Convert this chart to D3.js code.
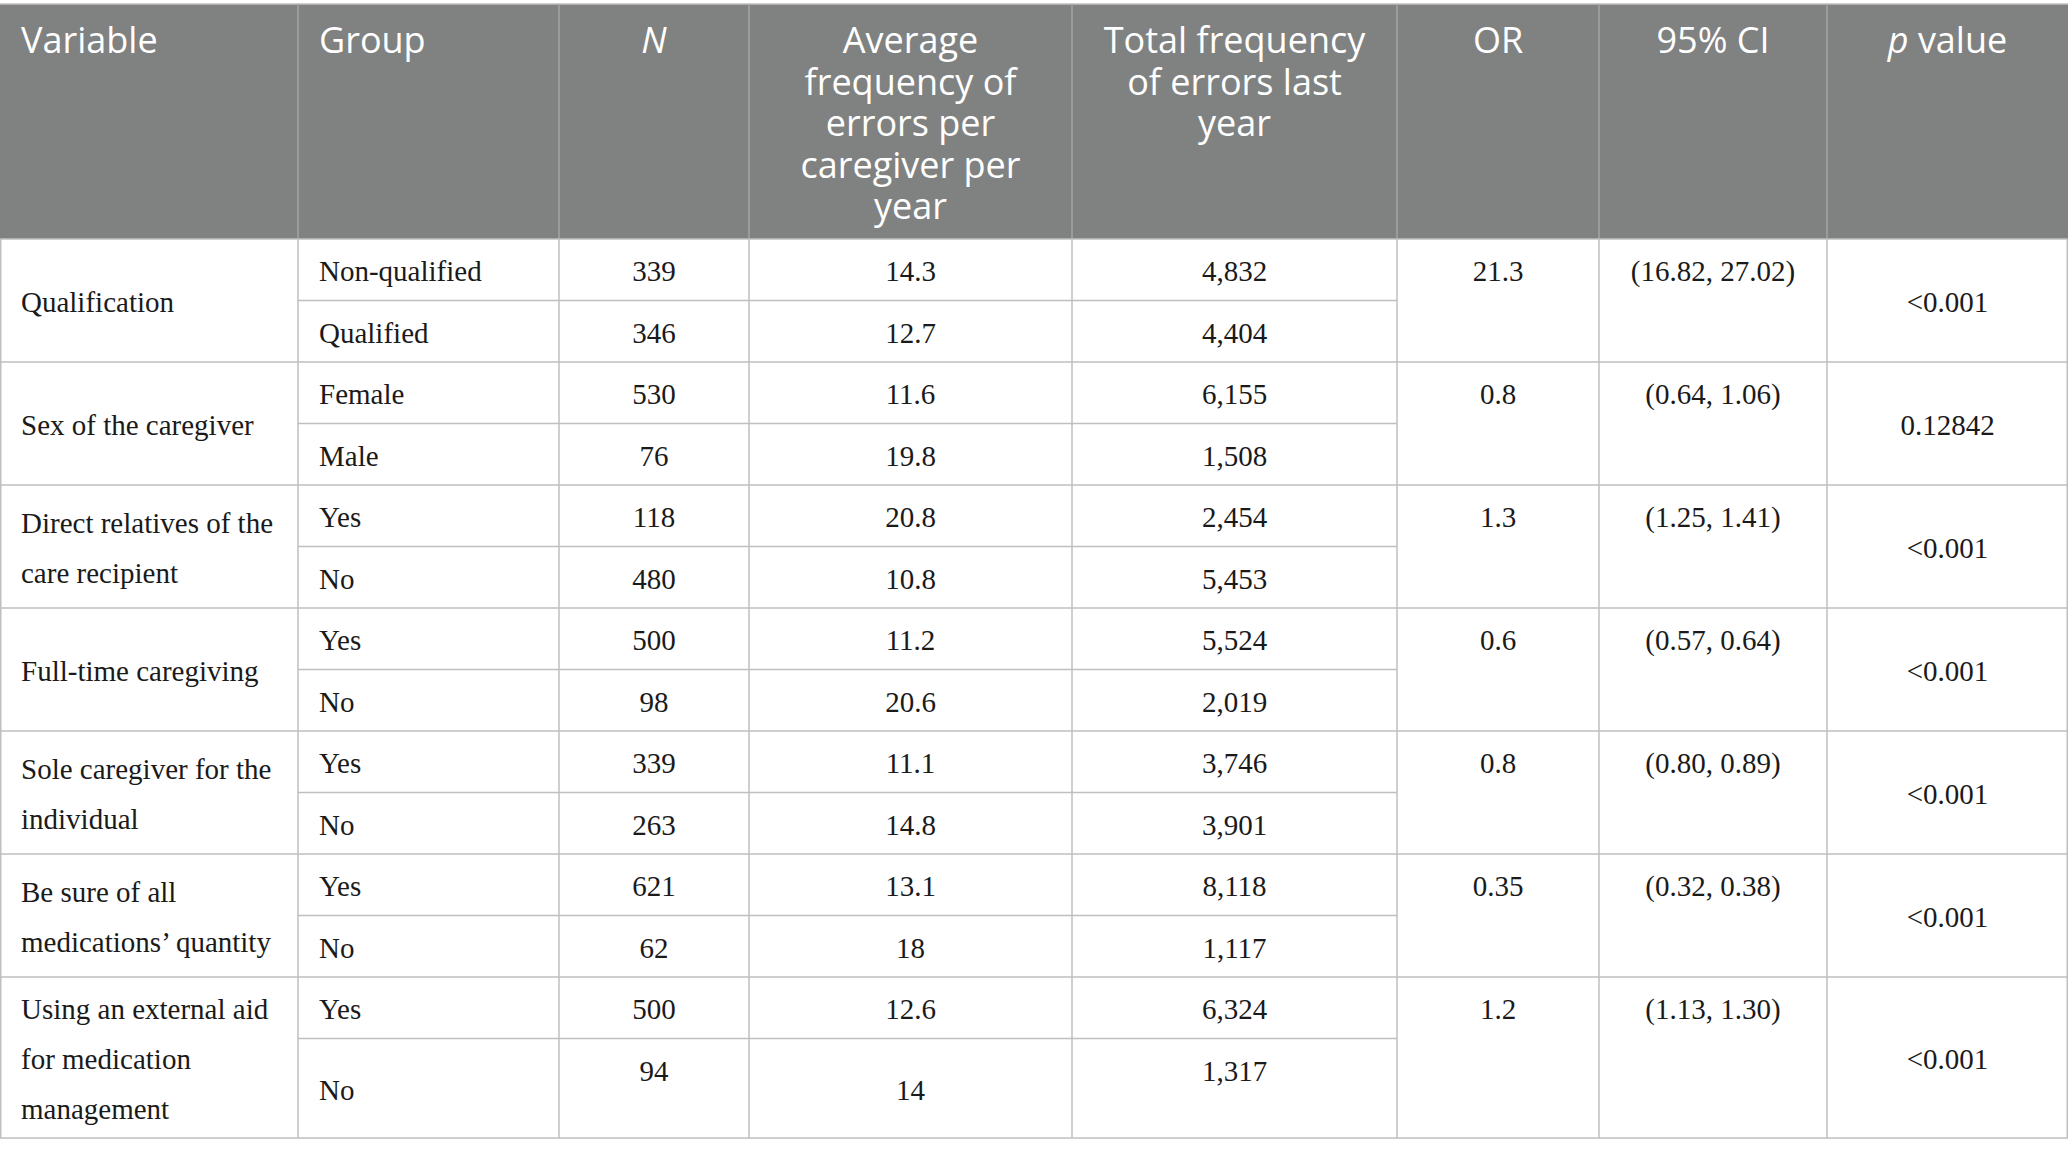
<!DOCTYPE html>
<html>
<head>
<meta charset="utf-8">
<script src="https://cdn.jsdelivr.net/npm/d3@7"></script>
<style>
  body { margin: 0; background: #fff; }
</style>
</head>
<body>
<script>
// table content
const headerLines = [
    ["Variable"], ["Group"], ["N"],
    ["Average", "frequency of", "errors per", "caregiver per", "year"],
    ["Total frequency", "of errors last", "year"],
    ["OR"], ["95% CI"], ["p value"]
];
const italicWords = new Set(["N", "p"]);

const variableLines = [
    ["Qualification"],
    ["Sex of the caregiver"],
    ["Direct relatives of the", "care recipient"],
    ["Full-time caregiving"],
    ["Sole caregiver for the", "individual"],
    ["Be sure of all", "medications\u2019 quantity"],
    ["Using an external aid", "for medication", "management"]
];
const groups = [
    ["Non-qualified", "Qualified"], ["Female", "Male"], ["Yes", "No"], ["Yes", "No"],
    ["Yes", "No"], ["Yes", "No"], ["Yes", "No"]
];
const nValues = [[339, 346], [530, 76], [118, 480], [500, 98], [339, 263], [621, 62], [500, 94]];
const avgFreq = [[14.3, 12.7], [11.6, 19.8], [20.8, 10.8], [11.2, 20.6], [11.1, 14.8], [13.1, 18], [12.6, 14]];
const totalErrors = [[4832, 4404], [6155, 1508], [2454, 5453], [5524, 2019], [3746, 3901], [8118, 1117], [6324, 1317]];
const oddsRatios = ["21.3", "0.8", "1.3", "0.6", "0.8", "0.35", "1.2"];
const ciLabels = ["(16.82, 27.02)", "(0.64, 1.06)", "(1.25, 1.41)", "(0.57, 0.64)", "(0.80, 0.89)", "(0.32, 0.38)", "(1.13, 1.30)"];
const pValues = ["<0.001", "0.12842", "<0.001", "<0.001", "<0.001", "<0.001", "<0.001"];

// layout
const svgWidth = 2068;
const svgHeight = 1156;
const colEdges = [0, 298, 559, 749, 1072, 1397, 1599, 1827, 2068];
const tableTop = 4;
const headerBottom = 239;
const subRowH = 61.5;
const varLineH = 50;
const headerLineH = 41.5;
const headerFont = 36;
const bodyFont = 29;
const padLeft = 21;
const baselineShift = 11.5;

const headerFill = "#808281";
const headerDivider = "#a3a5a4";
const gridColor = "#bfbfbf";

const fmtTotal = d3.format(",");

// column x scale by index (left edge)
const colX = d3.scaleOrdinal().domain(d3.range(colEdges.length)).range(colEdges);
const colCenter = i => (colX(i) + colX(i + 1)) / 2;

// group heights: enough for two sub-rows or the wrapped variable label
const groupHeights = variableLines.map(l => Math.max(2 * subRowH, l.length * varLineH + 11));
const groupTops = [headerBottom];
groupHeights.forEach((h, i) => groupTops.push(groupTops[i] + h));

const svg = d3.select("body").append("svg")
    .attr("width", svgWidth)
    .attr("height", svgHeight);

// header background
svg.append("rect")
    .attr("x", 0).attr("y", tableTop)
    .attr("width", svgWidth).attr("height", headerBottom - tableTop)
    .attr("fill", headerFill);

svg.append("line")
    .attr("x1", 0).attr("x2", svgWidth)
    .attr("y1", tableTop).attr("y2", tableTop)
    .attr("stroke", gridColor).attr("stroke-width", 1.5);

svg.selectAll("line.hdiv")
    .data(d3.range(1, colEdges.length - 1))
    .join("line")
    .attr("class", "hdiv")
    .attr("x1", d => colX(d)).attr("x2", d => colX(d))
    .attr("y1", tableTop).attr("y2", headerBottom)
    .attr("stroke", headerDivider).attr("stroke-width", 1.5);

// header text, one text element per line
headerLines.forEach((lines, i) => {
    const x = i < 2 ? colX(i) + padLeft : colCenter(i);
    lines.forEach((line, j) => {
        const t = svg.append("text")
            .attr("class", "head")
            .attr("font-family", "'Open Sans', 'Noto Sans', sans-serif")
            .attr("font-size", headerFont)
            .attr("fill", "#ffffff")
            .attr("text-anchor", i < 2 ? "start" : "middle")
            .attr("x", x)
            .attr("y", 53 + j * headerLineH);
        line.split(" ").forEach((w, k) => {
            const ts = t.append("tspan").text((k > 0 ? " " : "") + w);
            if (italicWords.has(w)) ts.attr("font-style", "italic");
        });
    });
});

// body grid
const body = svg.append("g")
    .attr("font-family", "'Liberation Serif', 'Times New Roman', serif")
    .attr("font-size", bodyFont)
    .attr("fill", "#1a1a1a");

// group separators (full width)
svg.selectAll("line.gsep")
    .data(groupTops)
    .join("line")
    .attr("class", "gsep")
    .attr("x1", 0).attr("x2", svgWidth)
    .attr("y1", d => d).attr("y2", d => d)
    .attr("stroke", gridColor).attr("stroke-width", 1.5);

// inner sub-row separators (Group .. Total columns)
svg.selectAll("line.ssep")
    .data(groupTops.slice(0, -1))
    .join("line")
    .attr("class", "ssep")
    .attr("x1", colX(1)).attr("x2", colX(5))
    .attr("y1", d => d + subRowH).attr("y2", d => d + subRowH)
    .attr("stroke", gridColor).attr("stroke-width", 1.5);

// vertical lines in the body
svg.selectAll("line.vdiv")
    .data(colEdges)
    .join("line")
    .attr("class", "vdiv")
    .attr("x1", d => Math.min(Math.max(d, 0.75), svgWidth - 0.75))
    .attr("x2", d => Math.min(Math.max(d, 0.75), svgWidth - 0.75))
    .attr("y1", headerBottom).attr("y2", groupTops[groupTops.length - 1])
    .attr("stroke", gridColor).attr("stroke-width", 1.5);

// body cells
variableLines.forEach((lines, g) => {
    const top = groupTops[g];
    const h = groupHeights[g];
    const mid = top + h / 2;
    const row1Mid = top + subRowH / 2;
    const row2Top = top + subRowH;
    const row2Mid = (row2Top + top + h) / 2;
    // slot centre for top-aligned cells in a tall second row
    const row2Slot = row2Top + subRowH / 2;

    // variable label (left, middle)
    const vt = body.append("text");
    lines.forEach((line, j) => {
        vt.append("tspan")
            .attr("x", colX(0) + padLeft)
            .attr("y", mid + baselineShift + (j - (lines.length - 1) / 2) * varLineH)
            .text(line);
    });

    const subMids = [row1Mid, row2Mid];
    const subSlots = [row1Mid, row2Slot];

    groups[g].forEach((grp, r) => {
        body.append("text")
            .attr("x", colX(1) + padLeft)
            .attr("y", subMids[r] + baselineShift)
            .text(grp);
        body.append("text")
            .attr("x", colCenter(2))
            .attr("y", subSlots[r] + baselineShift)
            .attr("text-anchor", "middle")
            .text(nValues[g][r]);
        body.append("text")
            .attr("x", colCenter(3))
            .attr("y", subMids[r] + baselineShift)
            .attr("text-anchor", "middle")
            .text(String(avgFreq[g][r]));
        body.append("text")
            .attr("x", colCenter(4))
            .attr("y", subSlots[r] + baselineShift)
            .attr("text-anchor", "middle")
            .text(fmtTotal(totalErrors[g][r]));
    });

    // OR and CI sit at the top of the merged cell
    body.append("text")
        .attr("x", colCenter(5))
        .attr("y", row1Mid + baselineShift)
        .attr("text-anchor", "middle")
        .text(oddsRatios[g]);
    body.append("text")
        .attr("x", colCenter(6))
        .attr("y", row1Mid + baselineShift)
        .attr("text-anchor", "middle")
        .text(ciLabels[g]);
    // p value middle of the merged cell
    body.append("text")
        .attr("x", colCenter(7))
        .attr("y", mid + baselineShift)
        .attr("text-anchor", "middle")
        .text(pValues[g]);
});
</script>
</body>
</html>
